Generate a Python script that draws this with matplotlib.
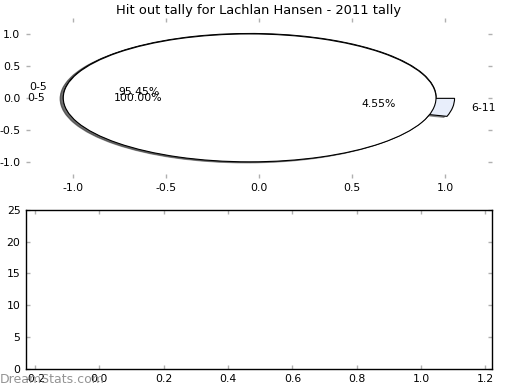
import matplotlib
matplotlib.use('Agg')
import matplotlib.pyplot as plt
import numpy as np

plt.rcParams['axes.unicode_minus'] = False

# hit out tally data
labels1 = ['0-5', '6-11']
values1 = [21, 1]
colors1 = ['white', '#e8eefb']
labels2 = ['0-5']
values2 = [22]
colors2 = ['white']

pie_xticks = [-1.0, -0.5, 0.0, 0.5, 1.0]
pie_yticks = [-1.0, -0.5, 0.0, 0.5, 1.0]
bar_xticks = [-0.2, 0.0, 0.2, 0.4, 0.6, 0.8, 1.0, 1.2]
bar_yticks = [0, 5, 10, 15, 20, 25]

fs = 7.8
tickcol = '#b0b0b0'
shadow = {'ox': -0.012, 'oy': -0.012, 'shade': 0.75}

fig = plt.figure(figsize=(5.2, 3.9), dpi=100)
ax1 = fig.add_axes([0.05, 0.544, 0.896, 0.41])
ax2 = fig.add_axes([0.05, 0.054, 0.896, 0.408])

ax1.pie(values1, labels=labels1, colors=colors1, explode=[0.05]*len(values1),
        autopct='%.2f%%', shadow=shadow,
        wedgeprops={'edgecolor': 'black', 'linewidth': 0.8},
        textprops={'fontsize': fs})
ax1.pie(values2, labels=labels2, colors=colors2, explode=[0.05]*len(values2),
        autopct='%.2f%%', shadow=shadow,
        wedgeprops={'edgecolor': 'black', 'linewidth': 0.8},
        textprops={'fontsize': fs})
ax1.set_aspect('auto')
ax1.set_frame_on(False)
ax1.set_xlim([-1.25, 1.25])
ax1.set_ylim([-1.25, 1.25])
ax1.set_xticks(pie_xticks)
ax1.set_yticks(pie_yticks)
ax1.set_title('Hit out tally for Lachlan Hansen - 2011 tally', size=9.4, pad=3)

ax2.set_xlim([-0.228, 1.22])
ax2.set_ylim([0, 25])
ax2.set_xticks(bar_xticks)
ax2.set_yticks(bar_yticks)
for s in ax2.spines.values():
    s.set_linewidth(1.0)
    s.set_color('black')

for ax in (ax1, ax2):
    ax.tick_params(axis='both', direction='in', length=3, width=1, color=tickcol,
                   labelsize=fs, top=True, right=True, pad=4)

fig.text(0.0, 0.026, 'DreamStats.com', color='#888888', fontsize=9, alpha=0.9,
         va='center', ha='left')

plt.savefig('out.png', dpi=100)
